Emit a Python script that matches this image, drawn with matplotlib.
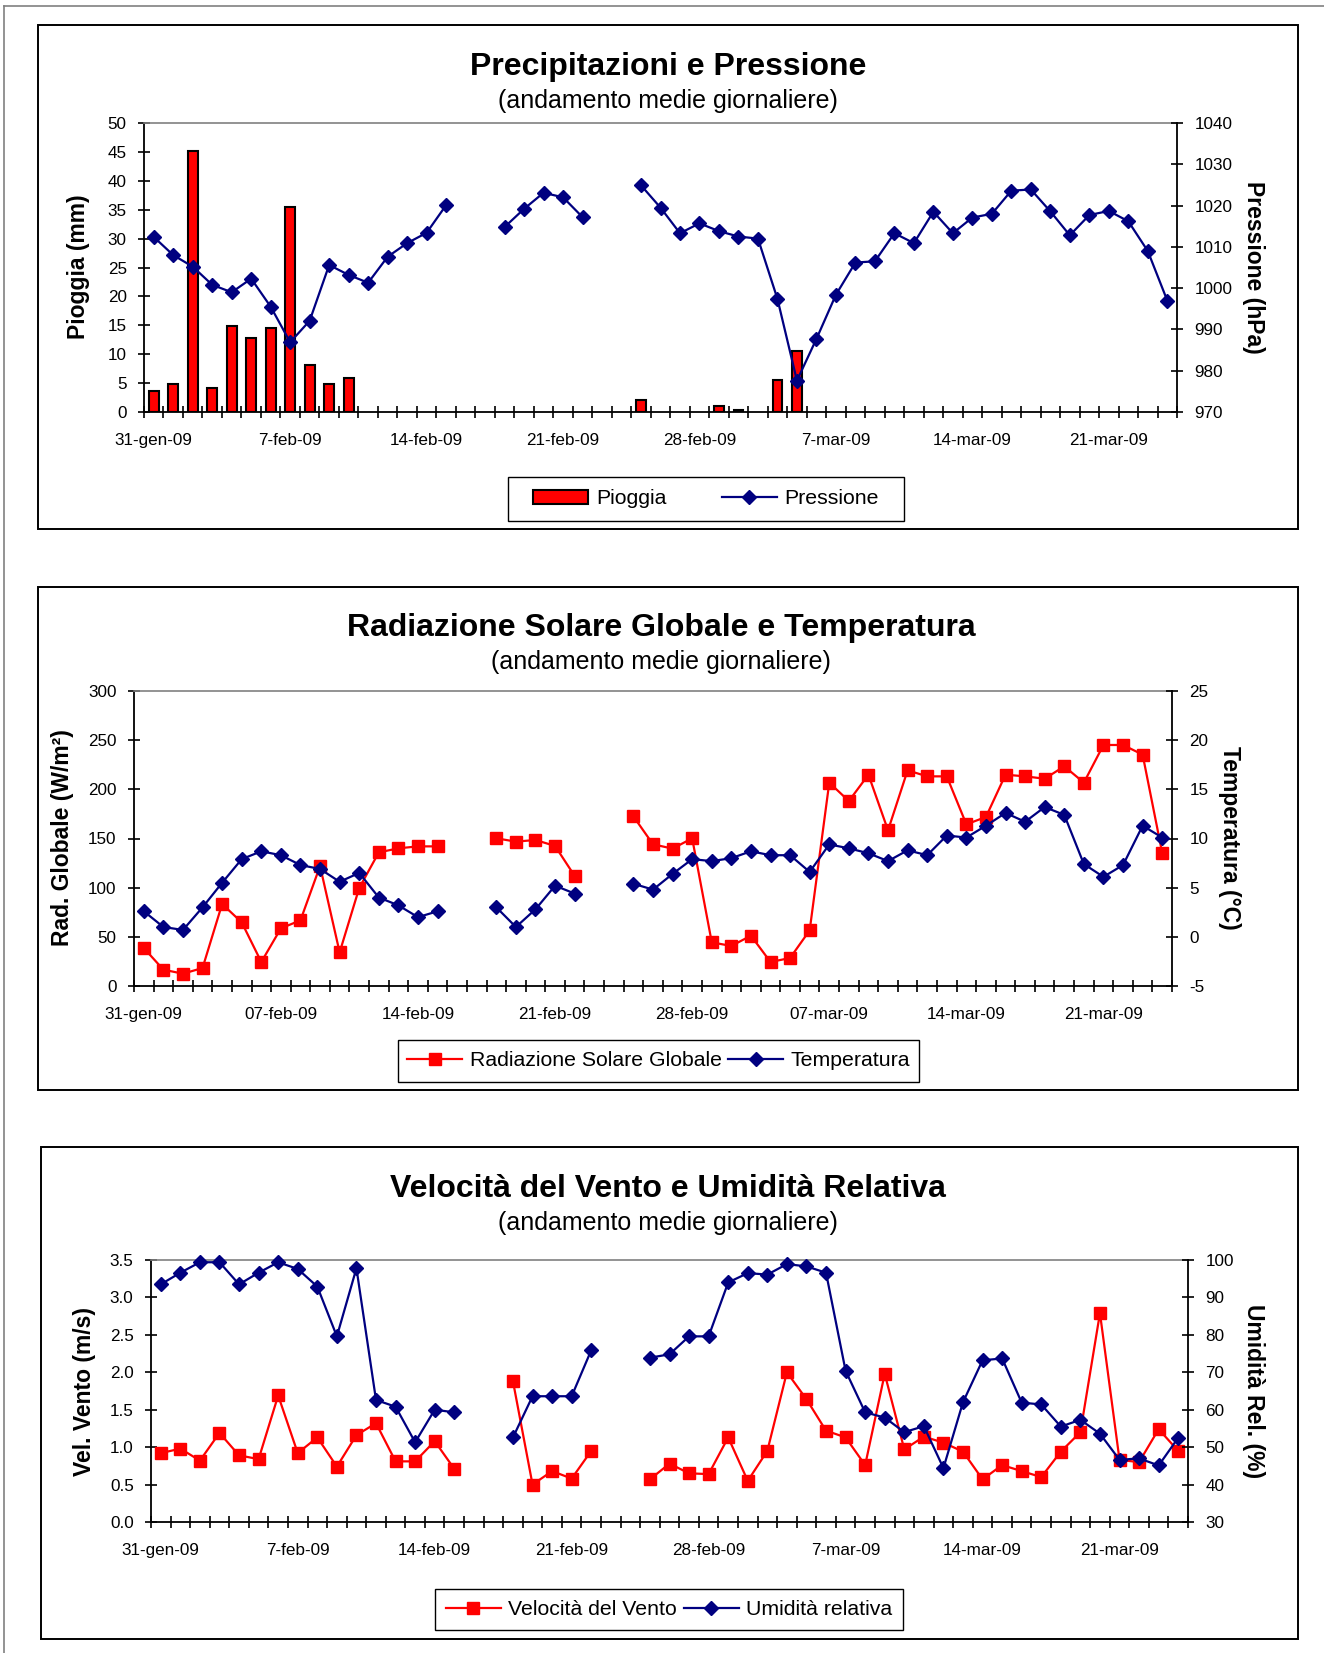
import numpy as np
import pandas as pd
import matplotlib
matplotlib.use('Agg')
import matplotlib.pyplot as plt
from matplotlib.patches import Rectangle, Patch
from matplotlib.lines import Line2D

plt.rcParams['font.family'] = ['Liberation Sans', 'DejaVu Sans']

nan = np.nan
# categories: daily, 31-gen-09 .. 24-mar-09
dates = pd.date_range('2009-01-31', '2009-03-24', freq='D')
label_idx = [0, 7, 14, 21, 28, 35, 42, 49]
labels_a = ['31-gen-09', '7-feb-09', '14-feb-09', '21-feb-09', '28-feb-09', '7-mar-09', '14-mar-09', '21-mar-09']
labels_b = ['31-gen-09', '07-feb-09', '14-feb-09', '21-feb-09', '28-feb-09', '07-mar-09', '14-mar-09', '21-mar-09']

pioggia = [3.7, 4.8, 45.1, 4.1, 14.8, 12.8, 14.5, 35.5, 8.2, 4.8, 5.8, 0, 0, 0, 0, 0,
           nan, nan, 0, 0, 0, 0, 0, nan, nan,
           2.0, 0, 0, 0, 1.0, 0.4, 0, 5.5, 10.6, 0, 0, 0, 0, 0, 0, 0, 0, 0, 0, 0, 0, 0, 0, 0, 0, 0, 0, 0]
pressione = [1012.4, 1008.0, 1005.2, 1000.8, 999.0, 1002.3, 995.5, 986.9, 992.1, 1005.6, 1003.2, 1001.3,
             1007.6, 1010.9, 1013.4, 1020.1, nan, nan, 1014.8, 1019.2, 1023.1, 1022.0, 1017.2, nan, nan,
             1024.9, 1019.5, 1013.3, 1015.7, 1013.8, 1012.5, 1012.0, 997.4, 977.6, 987.7, 998.4, 1006.2,
             1006.5, 1013.3, 1010.9, 1018.5, 1013.3, 1017.1, 1018.0, 1023.6, 1023.9, 1018.6, 1012.8,
             1017.7, 1018.7, 1016.2, 1009.0, 997.0]
radiazione = [38.6, 16.6, 12.5, 18.3, 83.4, 64.7, 24.4, 58.6, 66.8, 122.0, 34.2, 99.7, 135.9, 140.0,
              142.0, 142.0, nan, nan, 150.2, 146.8, 148.5, 142.4, 111.9, nan, nan,
              172.5, 144.1, 139.7, 150.2, 44.4, 40.7, 51.2, 24.4, 28.5, 56.6, 206.8, 188.1, 214.9,
              158.3, 219.3, 213.2, 213.2, 164.4, 171.9, 214.9, 213.2, 210.8, 223.4, 206.8, 245.1,
              245.1, 235.3, 135.3]
temperatura = [2.6, 1.0, 0.7, 3.0, 5.5, 7.9, 8.7, 8.3, 7.3, 6.9, 5.6, 6.5, 4.0, 3.2, 2.0, 2.6,
               nan, nan, 3.0, 1.0, 2.8, 5.2, 4.4, nan, nan,
               5.4, 4.8, 6.4, 7.9, 7.7, 8.0, 8.7, 8.3, 8.3, 6.6, 9.4, 9.0, 8.5, 7.7, 8.8, 8.3, 10.3,
               10.1, 11.3, 12.6, 11.7, 13.2, 12.4, 7.4, 6.1, 7.3, 11.3, 10.1]
vento = [0.92, 0.98, 0.82, 1.19, 0.89, 0.84, 1.69, 0.92, 1.13, 0.74, 1.16, 1.32, 0.81, 0.81, 1.08, 0.71,
         nan, nan, 1.88, 0.50, 0.68, 0.58, 0.95, nan, nan,
         0.57, 0.78, 0.65, 0.64, 1.13, 0.55, 0.95, 2.00, 1.64, 1.22, 1.13, 0.76, 1.98, 0.97, 1.14,
         1.06, 0.94, 0.57, 0.76, 0.68, 0.60, 0.94, 1.20, 2.79, 0.83, 0.80, 1.24, 0.95]
umidita = [93.5, 96.6, 99.4, 99.4, 93.5, 96.6, 99.4, 97.6, 92.9, 79.6, 97.8, 62.6, 60.8, 51.3, 60.0, 59.3,
           nan, nan, 52.6, 63.6, 63.6, 63.6, 75.9, nan, nan,
           73.9, 74.8, 79.6, 79.6, 94.0, 96.5, 96.1, 98.9, 98.3, 96.6, 70.4, 59.3, 57.9, 54.0, 55.6,
           44.4, 62.0, 73.2, 73.7, 61.9, 61.4, 55.5, 57.3, 53.6, 46.6, 47.0, 45.1, 52.5]

NAVY = '#000080'
RED = '#FF0000'
W, H = 1324, 1653
fig = plt.figure(figsize=(W / 100, H / 100), dpi=100)


def frect(l, t, r, b):
    return [l / W, 1 - b / H, (r - l) / W, (b - t) / H]


def box(l, t, r, b, color='black', lw=1.4):
    fig.add_artist(Rectangle((l / W, 1 - b / H), (r - l) / W, (b - t) / H, fill=False,
                             ec=color, lw=lw, transform=fig.transFigure))


def ftext(x, y, s, **kw):
    fig.text(x / W, 1 - y / H, s, ha='center', va='center', **kw)


def legend_box(handles, labels, l, t, r, b, colsp):
    box(l, t, r, b, lw=1.0)
    fig.legend(handles, labels, loc='center', bbox_to_anchor=((l + r) / 2 / W, 1 - (t + b) / 2 / H),
               ncol=2, fontsize=15.3, frameon=False, handlelength=2.6, handleheight=0.6,
               handletextpad=0.35, columnspacing=colsp, borderpad=0.3)


# outer thin frame
fig.add_artist(Line2D([4 / W, 4 / W], [0, 1 - 6 / H], color='#808080', lw=1.2, transform=fig.transFigure))
fig.add_artist(Line2D([4 / W, 1], [1 - 6 / H, 1 - 6 / H], color='#808080', lw=1.2, transform=fig.transFigure))

n = len(dates)
x = np.arange(n)


def setup(ax, ax2, xlabels, yl, yl_ticks, yl_labels, yr, yr_ticks, yr_labels):
    ax.set_xlim(-0.5, n - 0.5)
    ax.set_xticks(np.arange(-0.5, n, 1.0))
    ax.set_xticklabels([])
    ax.tick_params(axis='x', which='major', direction='inout', length=9, width=1.2)
    ax.set_xticks(label_idx, xlabels, minor=True)
    ax.tick_params(axis='x', which='minor', length=0, pad=15, labelsize=12.3)
    ax.set_ylim(*yl)
    ax.set_yticks(yl_ticks, yl_labels)
    ax.tick_params(axis='y', direction='inout', length=9, width=1.2, pad=8, labelsize=12.3)
    ax2.set_ylim(*yr)
    ax2.set_yticks(yr_ticks, yr_labels)
    ax2.tick_params(axis='y', direction='inout', length=9, width=1.2, pad=8, labelsize=12.3)
    ax.spines['top'].set_color('#808080')
    ax.spines['top'].set_linewidth(1.2)
    ax.spines['right'].set_visible(False)
    ax.spines['left'].set_linewidth(1.3)
    ax.spines['bottom'].set_linewidth(1.3)
    for s in ['top', 'left', 'bottom']:
        ax2.spines[s].set_visible(False)
    ax2.spines['right'].set_linewidth(1.3)


# ---------------- Panel 1 ----------------
box(38, 25, 1298, 529)
ftext(668, 67, 'Precipitazioni e Pressione', fontsize=23, fontweight='bold')
ftext(668, 101, '(andamento medie giornaliere)', fontsize=18)
ax = fig.add_axes(frect(144, 123, 1177, 412))
ax2 = ax.twinx()
rain = np.array(pioggia, dtype=float)
mask = np.nan_to_num(rain) > 0
ax.bar(x[mask], rain[mask], width=0.5, color=RED, edgecolor='black', linewidth=1.5, zorder=2)
ax2.plot(x, pressione, color=NAVY, lw=1.6, marker='D', ms=7, mec=NAVY, mfc=NAVY, zorder=3, clip_on=False)
setup(ax, ax2, labels_a, (0, 50), np.arange(0, 51, 5), [str(v) for v in range(0, 51, 5)],
      (970, 1040), np.arange(970, 1041, 10), [str(v) for v in range(970, 1041, 10)])
ftext(79, 267, 'Pioggia (mm)', fontsize=16.5, fontweight='bold', rotation=90)
ftext(1254, 267, 'Pressione (hPa)', fontsize=16.5, fontweight='bold', rotation=270)
h1 = [Patch(facecolor=RED, edgecolor='black', linewidth=1.5),
      Line2D([], [], color=NAVY, lw=1.6, marker='D', ms=7)]
legend_box(h1, ['Pioggia', 'Pressione'], 508, 477, 904, 521, 2.6)

# ---------------- Panel 2 ----------------
box(38, 587, 1298, 1090)
ftext(661, 628, 'Radiazione Solare Globale e Temperatura', fontsize=23, fontweight='bold')
ftext(661, 662, '(andamento medie giornaliere)', fontsize=18)
ax = fig.add_axes(frect(134, 691, 1172, 986))
ax2 = ax.twinx()
ax.plot(x, radiazione, color=RED, lw=1.6, marker='s', ms=8, mec=RED, mfc=RED, zorder=2, clip_on=False)
ax2.plot(x, temperatura, color=NAVY, lw=1.6, marker='D', ms=7, mec=NAVY, mfc=NAVY, zorder=3, clip_on=False)
setup(ax, ax2, labels_b, (0, 300), np.arange(0, 301, 50), [str(v) for v in range(0, 301, 50)],
      (-5, 25), np.arange(-5, 26, 5), [str(v) for v in range(-5, 26, 5)])
ftext(63, 838, 'Rad. Globale (W/m²)', fontsize=16.5, fontweight='bold', rotation=90)
ftext(1230, 838, 'Temperatura (°C)', fontsize=16.5, fontweight='bold', rotation=270)
h2 = [Line2D([], [], color=RED, lw=1.6, marker='s', ms=8),
      Line2D([], [], color=NAVY, lw=1.6, marker='D', ms=7)]
legend_box(h2, ['Radiazione Solare Globale', 'Temperatura'], 398, 1040, 919, 1082, 0.3)

# ---------------- Panel 3 ----------------
box(41, 1147, 1298, 1639)
ftext(668, 1189, 'Velocità del Vento e Umidità Relativa', fontsize=23, fontweight='bold')
ftext(668, 1223, '(andamento medie giornaliere)', fontsize=18)
ax = fig.add_axes(frect(151, 1260, 1188, 1522))
ax2 = ax.twinx()
ax.plot(x, vento, color=RED, lw=1.6, marker='s', ms=8, mec=RED, mfc=RED, zorder=2, clip_on=False)
ax2.plot(x, umidita, color=NAVY, lw=1.6, marker='D', ms=7, mec=NAVY, mfc=NAVY, zorder=3, clip_on=False)
wt = np.arange(0, 3.51, 0.5)
setup(ax, ax2, labels_a, (0, 3.5), wt, [f'{v:.1f}' for v in wt],
      (30, 100), np.arange(30, 101, 10), [str(v) for v in range(30, 101, 10)])
ftext(84, 1391, 'Vel. Vento (m/s)', fontsize=16.5, fontweight='bold', rotation=90)
ftext(1254, 1391, 'Umidità Rel. (%)', fontsize=16.5, fontweight='bold', rotation=270)
h3 = [Line2D([], [], color=RED, lw=1.6, marker='s', ms=8),
      Line2D([], [], color=NAVY, lw=1.6, marker='D', ms=7)]
legend_box(h3, ['Velocità del Vento', 'Umidità relativa'], 435, 1589, 903, 1630, 0.3)

fig.savefig('out.png', dpi=100)
